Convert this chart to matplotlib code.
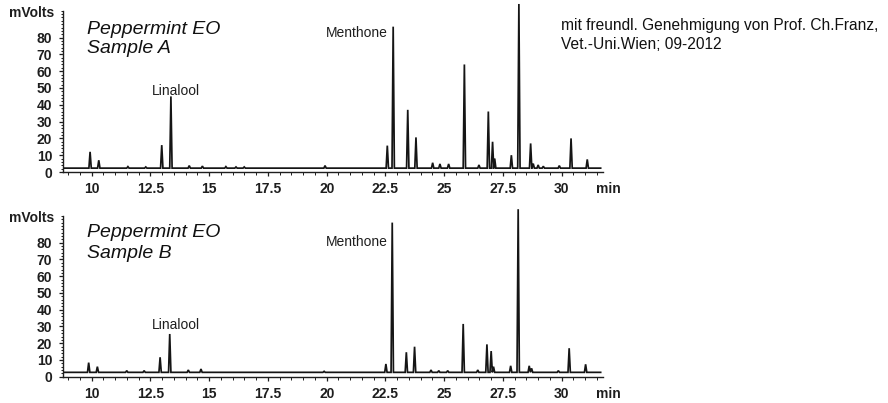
import matplotlib
matplotlib.use("Agg")
import matplotlib.pyplot as plt
from matplotlib.ticker import MultipleLocator, FixedLocator, FuncFormatter

# ---------------- data ----------------
# Sample A: retention time (min) and peak height (mVolts)
a_rt = [9.93, 10.30, 11.54, 12.30, 12.98, 13.37, 14.15, 14.71, 15.71, 16.14, 16.49,
        19.93, 22.58, 22.83, 23.45, 23.80, 24.51, 24.82, 25.19, 25.86, 26.48, 26.88,
        27.06, 27.15, 27.86, 28.18, 28.68, 28.79, 29.00, 29.22, 29.90, 30.40, 31.09]
a_h = [12, 7, 3.2, 3, 16, 45, 3.8, 3.5, 3.2, 3, 3,
       3.8, 15.7, 86.5, 37, 20.6, 5.5, 4.8, 4.8, 64, 4.2, 36,
       18, 8, 10, 100, 17, 5, 4.2, 3.4, 3.8, 20, 7.5]
a_base = 2.3

# Sample B
b_rt = [9.87, 10.24, 11.49, 12.23, 12.91, 13.32, 14.11, 14.65, 19.89, 22.52, 22.79,
        23.39, 23.74, 24.44, 24.77, 25.15, 25.81, 26.43, 26.82, 27.00, 27.10, 27.83,
        28.15, 28.62, 28.72, 29.86, 30.32, 31.02]
b_h = [8.4, 6, 3.6, 3.6, 11.6, 25.5, 4, 4.6, 3.2, 7.6, 92,
       14.6, 17.9, 4, 3.6, 3.6, 31.5, 4, 19.3, 15.3, 6, 6.5,
       100, 6.5, 5, 3.6, 17, 7.4]
b_base = 2.6

x_ticks = [10, 12.5, 15, 17.5, 20, 22.5, 25, 27.5, 30]
y_ticks = [0, 10, 20, 30, 40, 50, 60, 70, 80]

XMIN, XMAX = 8.79, 31.76
YMIN, YMAX = 0, 96
PW = 0.05  # half width of drawn peak

plt.rcParams['font.family'] = ['Liberation Sans', 'DejaVu Sans']

fig = plt.figure(figsize=(8.88, 4.03), dpi=100)
fig.patch.set_facecolor('white')

INK = '#1e1e1e'


def trace(rt, h, base):
    xs = [XMIN + 0.05]
    ys = [base]
    for t, v in sorted(zip(rt, h)):
        xs += [t - PW, t, t + PW]
        ys += [base, v, base]
    xs.append(XMAX - 0.1)
    ys.append(base)
    return xs, ys


def setup(ax, rt, h, base, title1, title2, t_y1, t_y2, lin_y, men_y):
    xs, ys = trace(rt, h, base)
    ax.plot(xs, ys, color='#151515', lw=1.25, clip_on=False, solid_joinstyle='miter')
    ax.set_xlim(XMIN, XMAX)
    ax.set_ylim(YMIN, YMAX)
    for s in ['top', 'right']:
        ax.spines[s].set_visible(False)
    for s in ['left', 'bottom']:
        ax.spines[s].set_linewidth(1.0)
        ax.spines[s].set_color(INK)
    ax.xaxis.set_major_locator(FixedLocator(x_ticks))
    ax.xaxis.set_minor_locator(MultipleLocator(0.5))
    ax.xaxis.set_major_formatter(FuncFormatter(lambda v, p: '%g' % v))
    ax.yaxis.set_major_locator(FixedLocator(y_ticks))
    ax.yaxis.set_minor_locator(MultipleLocator(2))
    ax.tick_params(axis='both', which='major', length=3, width=0.9, labelsize=10,
                   colors=INK, pad=4.5)
    ax.tick_params(axis='both', which='minor', length=1.8, width=0.7, colors=INK)
    ax.tick_params(axis='y', pad=5)
    for lab in ax.get_xticklabels() + ax.get_yticklabels():
        lab.set_fontweight('bold')
    ax.set_facecolor('none')
    ax.text(-0.017, 94.5, 'mVolts', transform=ax.get_yaxis_transform(),
            ha='right', va='center', fontsize=10, fontweight='bold', color=INK)
    ax.annotate('min', xy=(31.97, 0), xycoords=('data', 'axes fraction'),
                xytext=(0, -7.5), textcoords='offset points', ha='center', va='top',
                fontsize=10, fontweight='bold', color=INK, annotation_clip=False)
    ax.text(9.8, t_y1, title1, ha='left', va='baseline', fontsize=14,
            style='italic', color='#111111')
    ax.text(9.8, t_y2, title2, ha='left', va='baseline', fontsize=14,
            style='italic', color='#111111')
    ax.text(13.59, lin_y, 'Linalool', ha='center', va='baseline', fontsize=10,
            color=INK)
    ax.text(22.58, men_y, 'Menthone', ha='right', va='baseline', fontsize=10,
            color=INK)


W = 888.0
H = 403.0
left = 63.3 / W
width = (603 - 63.3) / W

ax1 = fig.add_axes([left, 1 - 172 / H, width, 161.3 / H])
setup(ax1, a_rt, a_h, a_base, 'Peppermint EO', 'Sample A', 82.0, 71.0, 45.8, 80.5)

ax2 = fig.add_axes([left, 1 - 376.7 / H, width, 160.8 / H])
setup(ax2, b_rt, b_h, b_base, 'Peppermint EO', 'Sample B', 83.5, 71.0, 28.5, 78)

fig.text(561 / W, 1 - 30 / H, 'mit freundl. Genehmigung von Prof. Ch.Franz,',
         ha='left', va='baseline', fontsize=11.2, color='#111111')
fig.text(561 / W, 1 - 49 / H, 'Vet.-Uni.Wien; 09-2012',
         ha='left', va='baseline', fontsize=11.2, color='#111111')

fig.savefig('out.png', dpi=100, facecolor='white')
